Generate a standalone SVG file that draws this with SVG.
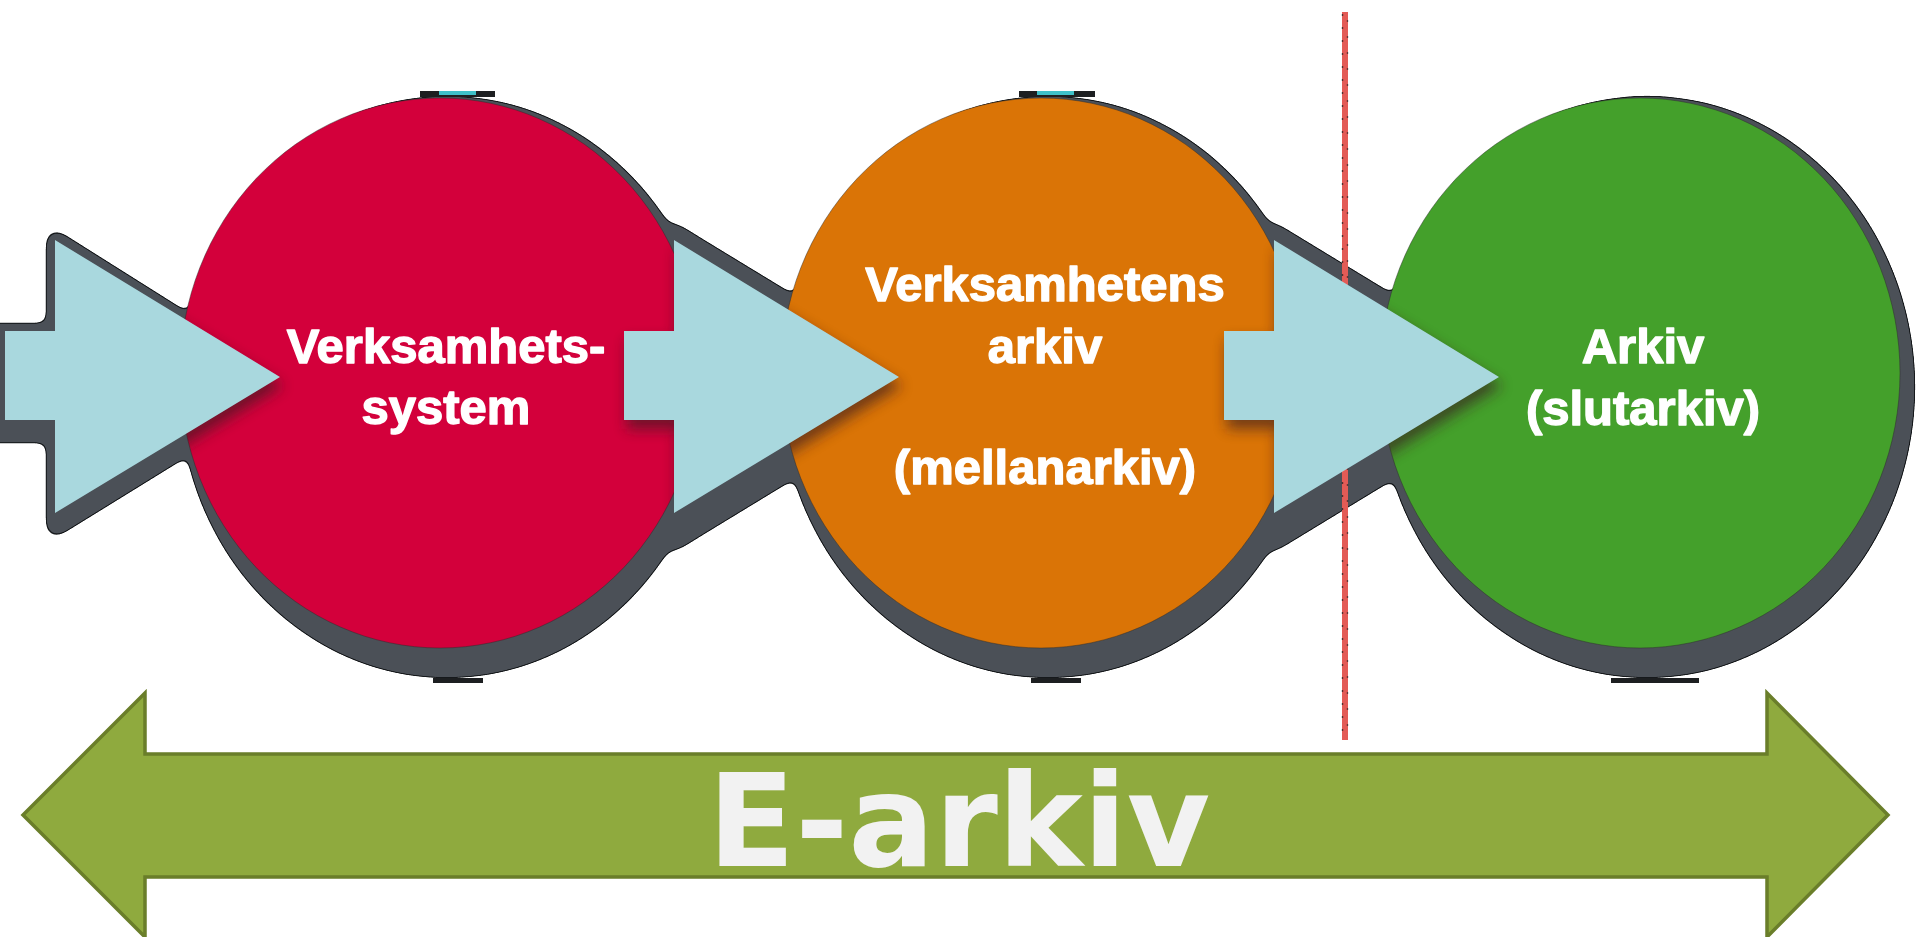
<svg xmlns="http://www.w3.org/2000/svg" xmlns:xlink="http://www.w3.org/1999/xlink" width="1920" height="937" viewBox="0 0 1920 937">
  <style>
    .lbl { font-family: "Liberation Sans", Arial, sans-serif; font-weight: bold; font-size: 49px; fill: #ffffff; stroke: #ffffff; stroke-width: 1.4px; stroke-linejoin: round; text-anchor: middle; }
    .big { font-family: "DejaVu Sans", Verdana, sans-serif; font-weight: bold; font-size: 128px; fill: #f2f2f2; text-anchor: middle; }
    .flow { fill: #a9d8de; }
    .bar { fill: #1d1f21; }
    .glint { fill: #3fc1c9; }
    .disc { stroke: #2a2a2a; stroke-width: 1; stroke-opacity: 0.45; }
  </style>
  <defs>
    <!-- generic flow arrow: short shaft + wide head, anchored at the shaft start -->
    <path id="arrowShape" d="M0,331 H50 V240 L275,377 L50,513 V420 H0 Z"/>
    <!-- cast-shadow silhouettes: the entry arrow, and the deeper one between two discs -->
    <path id="arrowShadeEntry" d="M-4,328 H46 V232 L289,385 L46,535 V438 H-4 Z"/>
    <path id="arrowShadeLink" d="M-4,325 H46 V225 L289,373 V401 L46,549 V440 H-4 Z"/>

    <!-- hard drop shadow: blur + threshold merges the shapes into one smooth silhouette with a dark rim -->
    <filter id="shadowFx" filterUnits="userSpaceOnUse" x="-60" y="0" width="2040" height="937" color-interpolation-filters="sRGB">
      <feGaussianBlur in="SourceAlpha" stdDeviation="7" result="b"/>
      <feComponentTransfer in="b" result="outer">
        <feFuncA type="linear" slope="30" intercept="-6"/>
      </feComponentTransfer>
      <feComponentTransfer in="b" result="inner">
        <feFuncA type="linear" slope="30" intercept="-7.5"/>
      </feComponentTransfer>
      <feFlood flood-color="#16191c" result="rimColor"/>
      <feComposite in="rimColor" in2="outer" operator="in" result="rim"/>
      <feFlood flood-color="#4b5057" result="bodyColor"/>
      <feComposite in="bodyColor" in2="inner" operator="in" result="body"/>
      <feMerge>
        <feMergeNode in="rim"/>
        <feMergeNode in="body"/>
      </feMerge>
    </filter>

    <!-- soft shade the arrows cast onto the discs -->
    <filter id="softFx" filterUnits="userSpaceOnUse" x="-60" y="0" width="2040" height="937">
      <feGaussianBlur stdDeviation="7"/>
    </filter>

    <clipPath id="discClip">
      <ellipse cx="440" cy="373" rx="260" ry="275"/>
      <ellipse cx="1041" cy="373" rx="260" ry="275"/>
      <ellipse cx="1640" cy="373" rx="260" ry="275"/>
    </clipPath>
  </defs>

  <rect width="1920" height="937" fill="#ffffff"/>

  <!-- shadows behind discs and arrows -->
  <g id="shadows" filter="url(#shadowFx)" fill="#000">
    <ellipse cx="447" cy="387" rx="263" ry="286"/>
    <ellipse cx="1048" cy="387" rx="263" ry="286"/>
    <ellipse cx="1647" cy="387" rx="263" ry="286"/>
    <use xlink:href="#arrowShadeEntry" transform="translate(5,0)"/>
    <rect x="-40" y="328" width="60" height="110"/>
    <use xlink:href="#arrowShadeLink" transform="translate(624,0)"/>
    <use xlink:href="#arrowShadeLink" transform="translate(1224,0)"/>
  </g>

  <!-- boundary marker line -->
  <g id="boundary">
    <line x1="1345" y1="12" x2="1345" y2="740" stroke="#e35b56" stroke-width="6"/>
    <line x1="1342.5" y1="14" x2="1342.5" y2="740" stroke="#1a1a1a" stroke-width="1.4" stroke-dasharray="2 11" opacity="0.7"/>
    <line x1="1347.5" y1="20" x2="1347.5" y2="740" stroke="#1a1a1a" stroke-width="1.4" stroke-dasharray="2 14" opacity="0.6"/>
  </g>

  <!-- stage discs -->
  <g id="node-verksamhetssystem">
    <ellipse class="disc" cx="440" cy="373" rx="260" ry="275" fill="#d3003b"/>
    <rect class="bar" x="420" y="91" width="75" height="6"/>
    <rect class="glint" x="439" y="91" width="37" height="4"/>
    <rect class="bar" x="433" y="678" width="50" height="5"/>
  </g>
  <g id="node-verksamhetens-arkiv">
    <ellipse class="disc" cx="1041" cy="373" rx="260" ry="275" fill="#da7406"/>
    <rect class="bar" x="1019" y="91" width="76" height="6"/>
    <rect class="glint" x="1037" y="91" width="37" height="4"/>
    <rect class="bar" x="1031" y="678" width="50" height="5"/>
  </g>
  <g id="node-arkiv">
    <ellipse class="disc" cx="1640" cy="373" rx="260" ry="275" fill="#44a02b"/>
    <rect class="bar" x="1611" y="678" width="88" height="5"/>
  </g>

  <!-- flow arrows -->
  <g id="connectors">
    <g clip-path="url(#discClip)">
      <g filter="url(#softFx)" fill="#3a1e22" opacity="0.65">
        <use xlink:href="#arrowShape" transform="translate(8,9)"/>
        <use xlink:href="#arrowShape" transform="translate(627,9)"/>
        <use xlink:href="#arrowShape" transform="translate(1227,9)"/>
      </g>
    </g>
    <use class="flow" xlink:href="#arrowShape" transform="translate(5,0)"/>
    <use class="flow" xlink:href="#arrowShape" transform="translate(624,0)"/>
    <use class="flow" xlink:href="#arrowShape" transform="translate(1224,0)"/>
  </g>

  <!-- labels -->
  <g id="label-verksamhetssystem">
    <text class="lbl" x="446" y="363">Verksamhets-</text>
    <text class="lbl" x="446" y="424">system</text>
  </g>
  <g id="label-verksamhetens-arkiv">
    <text class="lbl" x="1045" y="301">Verksamhetens</text>
    <text class="lbl" x="1045" y="363">arkiv</text>
    <text class="lbl" x="1045" y="484">(mellanarkiv)</text>
  </g>
  <g id="label-arkiv">
    <text class="lbl" x="1643" y="363">Arkiv</text>
    <text class="lbl" x="1643" y="425">(slutarkiv)</text>
  </g>

  <!-- span arrow for the whole e-archive -->
  <g id="node-e-arkiv">
    <path d="M23,815 L145,693 L145,754 L1767,754 L1767,693 L1888,815 L1767,937 L1767,877 L145,877 L145,937 Z" fill="#8faa3e" stroke="#6a7e2a" stroke-width="3.5" stroke-linejoin="miter"/>
    <text class="big" x="959" y="866">E-arkiv</text>
  </g>
</svg>
